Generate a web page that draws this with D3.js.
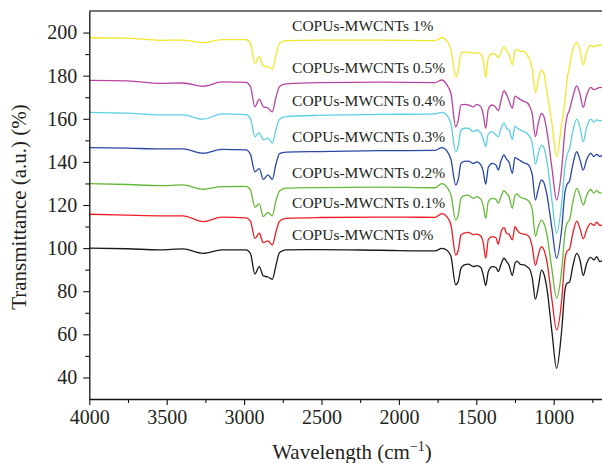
<!DOCTYPE html>
<html>
<head>
<meta charset="utf-8">
<script src="https://cdn.jsdelivr.net/npm/d3@7"></script>
<style>
  body { margin: 0; background: #fff; }
  svg text { font-family: "Liberation Serif", "Times New Roman", serif; fill: #231f20; }
</style>
</head>
<body>
<div id="chart"></div>
<script>
// wavenumber grid (cm-1), shared by all spectra
const wavenumbers = [4000, 3755, 3543, 3395, 3265, 3143, 2988, 2959, 2930, 2902,
  2876, 2846, 2818, 2794, 2771, 2729, 2510, 2122, 1767, 1722,
  1689, 1663, 1633, 1616, 1599, 1578, 1552, 1519, 1497, 1470,
  1455, 1439, 1422, 1397, 1373, 1358, 1340, 1321, 1304, 1289,
  1267, 1250, 1237, 1216, 1190, 1172, 1153, 1138, 1118, 1099,
  1079, 1063, 1043, 1011, 981, 948, 927, 914, 898, 877,
  851, 830, 809, 787, 761, 740, 722, 701, 680];

const seriesNames = ['COPUs-MWCNTs 0%', 'COPUs-MWCNTs 0.1%', 'COPUs-MWCNTs 0.2%',
  'COPUs-MWCNTs 0.3%', 'COPUs-MWCNTs 0.4%', 'COPUs-MWCNTs 0.5%', 'COPUs-MWCNTs 1%'];

const t0 = [100.0, 99.7, 99.2, 99.6, 97.6, 99.2, 99.2, 97.5, 88.0, 91.4,
  87.1, 86.6, 85.5, 92.0, 98.0, 99.2, 99.3, 99.0, 98.7, 99.9,
  99.0, 96.0, 82.9, 84.6, 90.6, 92.2, 92.6, 91.4, 91.9, 91.0,
  87.5, 82.6, 89.1, 91.4, 91.0, 89.1, 92.5, 95.3, 93.7, 92.2,
  87.3, 92.9, 94.0, 92.5, 92.2, 91.4, 90.0, 86.0, 76.3, 82.0,
  89.8, 88.0, 81.0, 61.0, 44.2, 62.0, 80.6, 83.7, 84.2, 91.4,
  97.6, 94.5, 87.3, 92.9, 95.7, 94.5, 96.0, 93.7, 94.5];

const t01 = [115.7, 115.3, 115.0, 115.0, 112.3, 114.4, 114.0, 112.5, 104.5, 106.9,
  102.5, 103.4, 101.4, 107.5, 112.5, 113.8, 114.2, 114.4, 114.3, 116.0,
  114.5, 110.5, 96.8, 99.0, 106.1, 107.0, 107.3, 106.3, 106.5, 105.5,
  102.5, 95.3, 104.0, 105.3, 104.8, 101.8, 107.5, 109.5, 106.8, 106.5,
  103.8, 110.0, 108.5, 106.9, 106.5, 106.1, 104.5, 100.5, 92.0, 97.0,
  100.7, 99.2, 93.5, 76.0, 62.0, 76.0, 95.0, 98.5, 99.5, 106.5,
  112.5, 109.0, 104.3, 108.5, 111.5, 110.5, 112.0, 110.5, 111.0];

const t02 = [129.9, 129.5, 129.0, 129.3, 127.3, 128.5, 128.6, 127.0, 119.0, 120.5,
  114.6, 116.6, 115.0, 122.0, 126.5, 127.8, 128.1, 128.3, 128.0, 129.9,
  128.2, 124.5, 113.0, 115.5, 123.1, 124.3, 124.6, 123.1, 123.9, 122.6,
  119.5, 113.8, 121.5, 123.1, 122.6, 120.8, 124.0, 126.6, 125.3, 124.0,
  118.5, 124.5, 125.1, 123.6, 123.0, 122.4, 121.0, 117.7, 105.5, 110.0,
  113.0, 111.5, 106.0, 90.0, 76.7, 90.0, 107.0, 111.5, 113.0, 121.0,
  127.7, 124.5, 120.0, 124.5, 127.2, 125.5, 126.8, 125.5, 126.0];

const t03 = [146.6, 146.4, 146.0, 146.0, 144.0, 145.8, 145.6, 143.5, 135.4, 136.9,
  131.9, 134.0, 131.9, 139.0, 143.8, 144.5, 144.8, 145.2, 145.3, 146.6,
  145.0, 141.0, 129.3, 132.0, 139.3, 140.2, 140.4, 139.3, 140.0, 138.6,
  135.5, 129.7, 137.5, 139.3, 138.6, 136.2, 140.5, 143.2, 141.2, 140.0,
  134.7, 142.1, 141.5, 140.6, 139.5, 139.1, 137.5, 134.0, 122.3, 127.5,
  131.6, 130.3, 124.5, 109.0, 95.3, 109.0, 126.0, 129.5, 131.0, 138.5,
  144.7, 141.0, 136.2, 141.0, 144.0, 142.5, 143.5, 142.5, 143.5];

const t04 = [163.0, 162.6, 161.8, 161.8, 159.8, 162.3, 161.9, 160.0, 151.7, 153.5,
  150.2, 151.0, 148.7, 155.0, 159.8, 161.0, 161.6, 162.0, 162.3, 163.0,
  161.6, 157.5, 144.7, 147.5, 154.8, 155.6, 155.6, 154.0, 154.8, 153.3,
  150.5, 147.1, 153.0, 154.0, 152.5, 151.7, 155.5, 158.0, 155.6, 154.8,
  150.5, 156.6, 155.8, 154.8, 154.0, 153.3, 151.5, 148.6, 139.0, 144.0,
  147.8, 146.5, 140.0, 122.0, 106.9, 121.0, 138.0, 143.0, 146.0, 154.0,
  159.8, 156.0, 149.3, 156.0, 159.8, 158.5, 159.5, 159.0, 159.5];

const t05 = [177.8, 177.6, 176.4, 176.6, 175.1, 177.1, 176.9, 175.0, 165.6, 169.1,
  165.6, 165.0, 163.2, 170.0, 175.0, 176.2, 176.8, 177.0, 176.8, 178.0,
  175.6, 171.5, 156.3, 159.5, 166.5, 166.7, 166.4, 165.5, 166.7, 165.5,
  162.0, 155.6, 164.5, 166.4, 165.2, 163.7, 168.5, 173.0, 171.2, 168.5,
  164.9, 170.5, 170.0, 169.0, 168.0, 167.5, 165.5, 162.0, 151.7, 158.0,
  162.5, 161.0, 154.0, 137.0, 122.3, 137.0, 155.0, 161.0, 164.0, 170.0,
  175.2, 171.5, 165.3, 171.0, 174.6, 173.5, 174.0, 174.6, 174.3];

const t1 = [197.6, 197.4, 196.4, 196.5, 195.3, 196.7, 196.7, 195.0, 185.7, 188.8,
  184.5, 184.2, 183.1, 189.5, 195.0, 196.3, 196.5, 196.5, 196.3, 197.6,
  195.9, 192.0, 179.5, 182.5, 190.6, 190.9, 190.9, 190.4, 190.7, 190.1,
  187.0, 179.2, 188.5, 190.2, 189.7, 188.4, 191.0, 193.4, 191.5, 190.0,
  185.0, 191.5, 192.1, 191.3, 191.3, 189.5, 187.3, 183.0, 172.0, 178.0,
  182.6, 181.0, 172.0, 158.0, 142.3, 158.0, 168.0, 178.0, 184.0, 192.0,
  195.3, 192.0, 185.0, 191.0, 194.2, 193.3, 194.0, 194.2, 194.0];

const seriesValues = [t0, t01, t02, t03, t04, t05, t1];
const seriesColors = ['#1a1a1a', '#ee1c24', '#66b83a', '#2b47a6', '#5ccfe0', '#b8449f', '#f2e62c'];

const xTicks = [4000, 3500, 3000, 2500, 2000, 1500, 1000];
const xMinor = [3750, 3250, 2750, 2250, 1750, 1250, 750];
const yTicks = [40, 60, 80, 100, 120, 140, 160, 180, 200];
const yMinor = [50, 70, 90, 110, 130, 150, 170, 190];

const W = 602, H = 463;
const mLeft = 89.3, mRight = 603.2, mTop = 11, mBottom = 399;

const svg = d3.select('#chart').append('svg')
  .attr('width', W)
  .attr('height', H);

const x = d3.scaleLinear().domain([4000, 680]).range([mLeft, mRight]);
const y = d3.scaleLinear().domain([30, 210]).range([mBottom, mTop]);

// top frame line
svg.append('line')
  .attr('x1', mLeft).attr('x2', W)
  .attr('y1', mTop).attr('y2', mTop)
  .attr('stroke', '#444').attr('stroke-width', 1.5);

const line = d3.line()
  .x((d, i) => x(wavenumbers[i]))
  .y(d => y(d))
  .curve(d3.curveMonotoneX);

seriesValues.forEach((vals, k) => {
  svg.append('path')
    .datum(vals)
    .attr('d', line)
    .attr('fill', 'none')
    .attr('stroke', seriesColors[k])
    .attr('stroke-width', 1.3);
});

// series labels sit just above each curve, near 2510 cm-1
const labelIdx = wavenumbers.indexOf(2510);
seriesValues.forEach((vals, k) => {
  svg.append('text')
    .attr('x', x(2690))
    .attr('y', y(vals[labelIdx]) - 13)
    .attr('dominant-baseline', 'middle')
    .style('font-size', '15.5px')
    .text(seriesNames[k]);
});

// axes
svg.append('g')
  .attr('transform', `translate(0,${mBottom})`)
  .call(d3.axisBottom(x).tickValues(xTicks).tickSize(6).tickSizeOuter(0).tickPadding(5).tickFormat(d3.format('d')));
svg.append('g')
  .attr('transform', `translate(0,${mBottom})`)
  .call(d3.axisBottom(x).tickValues(xMinor).tickSize(4).tickFormat(''))
  .call(g => g.select('.domain').remove());

svg.append('g')
  .attr('transform', `translate(${mLeft},0)`)
  .call(d3.axisLeft(y).tickValues(yTicks).tickSize(6).tickSizeOuter(0).tickPadding(6));
svg.append('g')
  .attr('transform', `translate(${mLeft},0)`)
  .call(d3.axisLeft(y).tickValues(yMinor).tickSize(4).tickFormat(''))
  .call(g => g.select('.domain').remove());

svg.selectAll('.domain').attr('stroke', '#111').attr('stroke-width', 1.3);
svg.selectAll('.tick line').attr('stroke', '#111').attr('stroke-width', 1.1);
svg.selectAll('.tick text')
  .style('font-family', '"Liberation Serif", serif')
  .style('font-size', '20px')
  .attr('fill', '#231f20');

// axis titles
const xTitle = svg.append('text')
  .attr('x', 352)
  .attr('y', 459)
  .attr('text-anchor', 'middle')
  .style('font-size', '21px');
xTitle.append('tspan').text('Wavelength (cm');
xTitle.append('tspan').attr('dy', -8).style('font-size', '14px').text('\u22121');
xTitle.append('tspan').attr('dy', 8).text(')');

svg.append('text')
  .attr('transform', `translate(26,${(mTop + mBottom) / 2 + 2}) rotate(-90)`)
  .attr('text-anchor', 'middle')
  .style('font-size', '21px')
  .text('Transmittance (a.u.) (%)');
</script>
</body>
</html>
